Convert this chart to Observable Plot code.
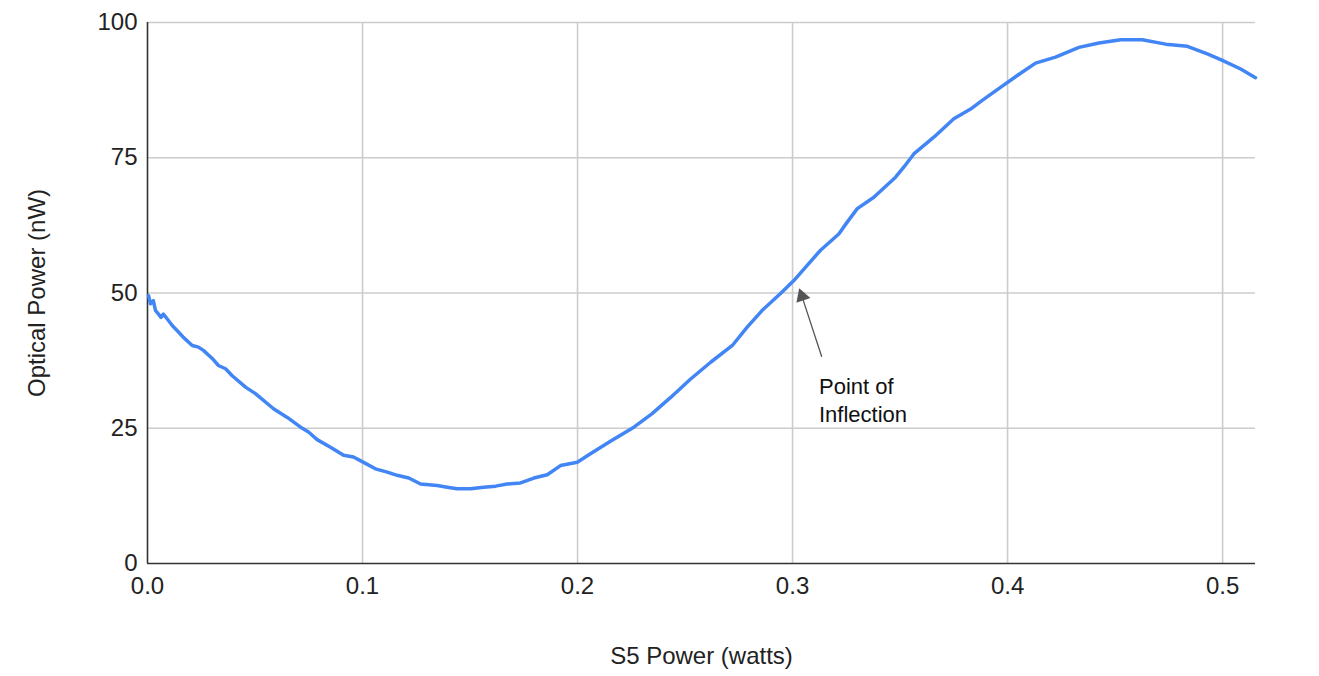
<!DOCTYPE html>
<html>
<head>
<meta charset="utf-8">
<script src="https://cdn.jsdelivr.net/npm/d3@7"></script>
<script src="https://cdn.jsdelivr.net/npm/@observablehq/plot@0.6"></script>
<style>
  html, body { margin: 0; padding: 0; background: #fff; }
  #chart svg { display: block; }
</style>
</head>
<body>
<div id="chart"></div>
<script>
// S5 Power (watts)
const powerW = [
  0.0005, 0.0014, 0.0027, 0.0037, 0.0063, 0.0074, 0.0092, 0.0115, 0.0144, 0.0167,
  0.0208, 0.0237, 0.026, 0.0301, 0.033, 0.0363, 0.0394, 0.0456, 0.0502, 0.0586,
  0.065, 0.0712, 0.0749, 0.0789, 0.0851, 0.0912, 0.0958, 0.1005, 0.106, 0.1115,
  0.1161, 0.1215, 0.127, 0.1347, 0.1394, 0.144, 0.1502, 0.1564, 0.1619, 0.1673,
  0.1735, 0.1797, 0.1859, 0.1921, 0.1999, 0.206, 0.2153, 0.2262, 0.2347, 0.2433,
  0.2526, 0.2619, 0.272, 0.2789, 0.2859, 0.2944, 0.3006, 0.3068, 0.313, 0.3215,
  0.3254, 0.3301, 0.3378, 0.3479, 0.3518, 0.3564, 0.3657, 0.375, 0.3828, 0.3882,
  0.3967, 0.4045, 0.413, 0.4223, 0.4332, 0.4425, 0.4526, 0.4626, 0.4735, 0.4836,
  0.4929, 0.4999, 0.5084, 0.5153
];
// Optical Power (nW)
const opticalNW = [
  49.5, 48.0, 48.6, 46.8, 45.5, 46.1, 45.2, 44.0, 42.8, 41.8,
  40.3, 40.0, 39.4, 37.9, 36.6, 36.0, 34.7, 32.6, 31.4, 28.6,
  27.0, 25.2, 24.3, 22.9, 21.5, 20.0, 19.7, 18.7, 17.5, 16.9,
  16.3, 15.8, 14.7, 14.4, 14.1, 13.8, 13.8, 14.1, 14.3, 14.7,
  14.9, 15.8, 16.4, 18.1, 18.7, 20.3, 22.6, 25.2, 27.7, 30.7,
  34.1, 37.2, 40.3, 43.7, 46.8, 49.9, 52.3, 55.1, 57.9, 60.9,
  63.1, 65.6, 67.7, 71.4, 73.3, 75.7, 78.8, 82.2, 84.0, 85.6,
  88.0, 90.2, 92.5, 93.6, 95.4, 96.2, 96.8, 96.8, 96.0, 95.6,
  94.2, 93.0, 91.4, 89.8
];
const xTicks = [0, 0.1, 0.2, 0.3, 0.4, 0.5];
const yTicks = [0, 25, 50, 75, 100];
const xDomain = [0, 0.5153];
const yDomain = [0, 100];

// Annotation
const noteText = ["Point of\nInflection"];
const noteAt = [{x: 0.3123, y: 35.0}];
const arrowFrom = [{x: 0.3135, y: 38.3}];
const arrowTo = [{x: 0.3036, y: 50.3}];

const data = powerW.map((p, i) => ({p, o: opticalNW[i]}));
const arrowData = arrowFrom.map((a, i) => ({x1: a.x, y1: a.y, x2: arrowTo[i].x, y2: arrowTo[i].y}));

const font = "'Liberation Sans', Arial, Helvetica, sans-serif";

const chart = Plot.plot({
  width: 1319,
  height: 676,
  marginTop: 22,
  marginBottom: 113,
  marginLeft: 147,
  marginRight: 64,
  style: {fontFamily: font, fontSize: "24px", color: "#222", background: "#fff"},
  x: {domain: xDomain, ticks: xTicks, tickFormat: ".1f"},
  y: {domain: yDomain, ticks: yTicks},
  marks: [
    Plot.gridX(xTicks.filter(d => d > 0), {stroke: "#cccccc", strokeOpacity: 1, strokeWidth: 1.6}),
    Plot.gridY(yTicks.filter(d => d > 0), {stroke: "#cccccc", strokeOpacity: 1, strokeWidth: 1.6}),
    Plot.axisX({ticks: xTicks, tickSize: 0, tickPadding: 13, tickFormat: ".1f", fontSize: 24,
      label: "S5 Power (watts)", labelAnchor: "center", labelArrow: "none", labelOffset: 100, fontSize: 24}),
    Plot.axisY({ticks: yTicks, tickSize: 0, tickPadding: 10, fontSize: 24,
      label: "Optical Power (nW)", labelAnchor: "center", labelArrow: "none", labelOffset: 120}),
    Plot.ruleX([0], {stroke: "#333", strokeWidth: 1.6}),
    Plot.ruleY([0], {stroke: "#333", strokeWidth: 1.6}),
    Plot.line(data, {x: "p", y: "o", stroke: "#4285f4", strokeWidth: 3.5, strokeLinejoin: "round", strokeLinecap: "round"}),
    Plot.arrow(arrowData, {x1: "x1", y1: "y1", x2: "x2", y2: "y2", stroke: "#555", strokeWidth: 1.3, headLength: 0}),
    Plot.dot(arrowTo, {x: "x", y: "y", symbol: "triangle", r: 5.5, fill: "#555", stroke: "none", rotate: -19, dy: 5, dx: 1.7}),
    Plot.text(noteAt, {x: "x", y: "y", text: () => noteText[0], textAnchor: "start", lineAnchor: "top",
      fontSize: 22, lineHeight: 1.27, fill: "#111"})
  ]
});
document.getElementById("chart").appendChild(chart);
</script>
</body>
</html>
